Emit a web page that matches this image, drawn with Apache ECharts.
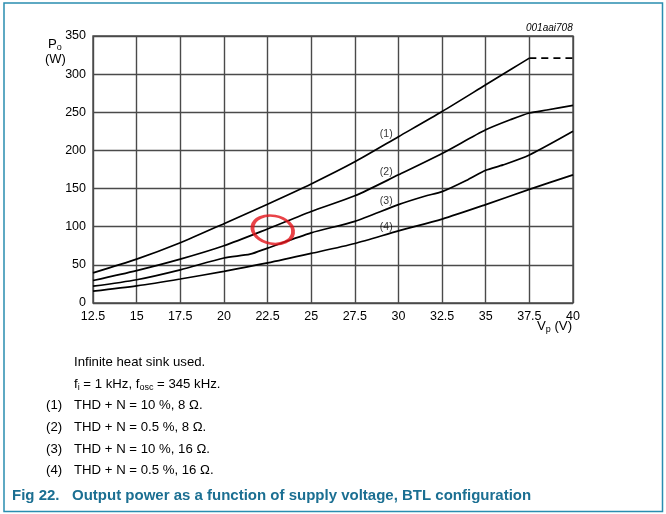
<!DOCTYPE html>
<html>
<head>
<meta charset="utf-8">
<script src="https://cdn.jsdelivr.net/npm/echarts@6/dist/echarts.min.js"></script>
<style>
  html, body { margin: 0; padding: 0; background: #fff; }
  #chart { width: 666px; height: 514px; }
</style>
</head>
<body>
<div id="chart"></div>
<script>
// ---- data (Vp in V, Po in W) ----
var xTicks = [12.5, 15, 17.5, 20, 22.5, 25, 27.5, 30, 32.5, 35, 37.5, 40];

var curve1 = [[12.5, 39.5], [15, 57.5], [17.5, 79], [20, 104], [22.5, 129.5], [25, 156],
              [27.5, 185], [30, 218], [32.5, 251], [35, 286], [36.5, 307], [37.5, 321]];
var curve1Dash = [[37.5, 321], [40, 321]];
var curve2 = [[12.5, 29.5], [15, 42.5], [17.5, 57.5], [20, 75], [22.5, 97], [25, 120],
              [27.5, 140.5], [30, 168], [32.5, 196], [35, 227], [36.5, 241], [37.5, 249],
              [38.5, 253], [40, 259]];
var curve3 = [[12.5, 22], [15, 30.5], [17.5, 43.5], [20, 59], [21.5, 64], [22.5, 72],
              [25, 92], [27.5, 107], [30, 129], [31.5, 140], [32.5, 146], [34, 162],
              [35, 174], [36, 181], [37.5, 194], [40, 225]];
var curve4 = [[12.5, 15.5], [15, 22.5], [17.5, 31.5], [20, 41.5], [22.5, 52.5], [25, 65],
              [27.5, 78], [30, 94.5], [32.5, 110], [35, 129], [37.5, 149], [40, 168]];

var curveLabels = [[29.3, 222, '(1)'], [29.3, 171, '(2)'], [29.3, 134, '(3)'], [29.3, 100, '(4)']];
var redMark = [[22.8, 96]];

var notes = [
  '{n|Infinite heat sink used.}',
  '{n|f}{s|i}{n| = 1 kHz, f}{s|osc}{n| = 345 kHz.}'
];
var legendNums = ['(1)', '(2)', '(3)', '(4)'];
var legendText = ['THD + N = 10 %, 8 \u03A9.', 'THD + N = 0.5 %, 8 \u03A9.',
                  'THD + N = 10 %, 16 \u03A9.', 'THD + N = 0.5 %, 16 \u03A9.'];
var caption = 'Fig 22.   Output power as a function of supply voltage, BTL configuration';

var FONT = 'Liberation Sans, Arial, sans-serif';
var chart = echarts.init(document.getElementById('chart'), null, { renderer: 'canvas' });

function curve(data, dashed) {
  return {
    type: 'line', data: data, smooth: 0.25, symbol: 'none', silent: true,
    lineStyle: { color: '#000', width: 1.7, type: dashed ? [7, 5] : 'solid' },
    z: 5
  };
}

var textRich = {
  n: { fontSize: 13.2, fontFamily: FONT, color: '#000' },
  s: { fontSize: 9, fontFamily: FONT, color: '#000', padding: [7, 0, 0, 0] }
};

var graphics = [
  // outer frame
  { type: 'rect', shape: { x: 4, y: 3, width: 658.5, height: 508.5 },
    style: { fill: 'none', stroke: '#2a8db0', lineWidth: 1.5 }, z: 0 },
  { type: 'text', left: 526, top: 23,
    style: { text: '001aai708', font: 'italic 10px ' + FONT, fill: '#000' } },
  { type: 'text', left: 48, top: 38,
    style: { text: '{n|P}{s|o}', rich: textRich } },
  { type: 'text', left: 45, top: 53,
    style: { text: '(W)', font: '13px ' + FONT, fill: '#000' } },
  { type: 'text', left: 537, top: 320,
    style: { text: '{n|V}{s|p}{n| (V)}', rich: textRich } }
];
notes.forEach(function (t, i) {
  graphics.push({ type: 'text', left: 74, top: 356 + i * 22, style: { text: t, rich: textRich } });
});
legendNums.forEach(function (t, i) {
  graphics.push({ type: 'text', left: 46, top: 399 + i * 21.7,
    style: { text: t, font: '13.2px ' + FONT, fill: '#000' } });
  graphics.push({ type: 'text', left: 74, top: 399 + i * 21.7,
    style: { text: legendText[i], font: '13.2px ' + FONT, fill: '#000' } });
});
graphics.push({ type: 'text', left: 12, top: 488,
  style: { text: caption, font: 'bold 15px ' + FONT, fill: '#1b6f92' } });

chart.setOption({
  backgroundColor: '#fff',
  animation: false,
  grid: { left: 93, right: 93, top: 36, bottom: 211, show: true, borderColor: '#4a4a4a', borderWidth: 1.4 },
  xAxis: {
    type: 'value', min: 12.5, max: 40, interval: 2.5,
    axisLine: { show: false }, axisTick: { show: false },
    axisLabel: { color: '#000', fontFamily: FONT, fontSize: 12.5, margin: 7,
                 formatter: function (v) { return xTicks.indexOf(v) >= 0 ? String(v) : ''; } },
    splitLine: { lineStyle: { color: '#4a4a4a', width: 1.4 } }
  },
  yAxis: {
    type: 'value', min: 0, max: 350, interval: 50,
    axisLine: { show: false }, axisTick: { show: false },
    axisLabel: { color: '#000', fontFamily: FONT, fontSize: 12.5, margin: 7 },
    splitLine: { lineStyle: { color: '#4a4a4a', width: 1.4 } }
  },
  graphic: graphics,
  series: [
    curve(curve1), curve(curve1Dash, true), curve(curve2), curve(curve3), curve(curve4),
    {
      type: 'scatter', data: curveLabels, symbolSize: 0, silent: true, z: 6,
      label: { show: true, position: 'inside', formatter: function (p) { return p.data[2]; },
               color: '#000', fontFamily: FONT, fontSize: 10.5 }
    },
    {
      type: 'scatter', data: redMark, symbol: 'circle', symbolSize: [41, 28], symbolRotate: -10,
      silent: true, z: 7,
      itemStyle: { color: 'rgba(0,0,0,0)', borderColor: '#e3141a', borderWidth: 3.2 }
    }
  ]
});
</script>
</body>
</html>
